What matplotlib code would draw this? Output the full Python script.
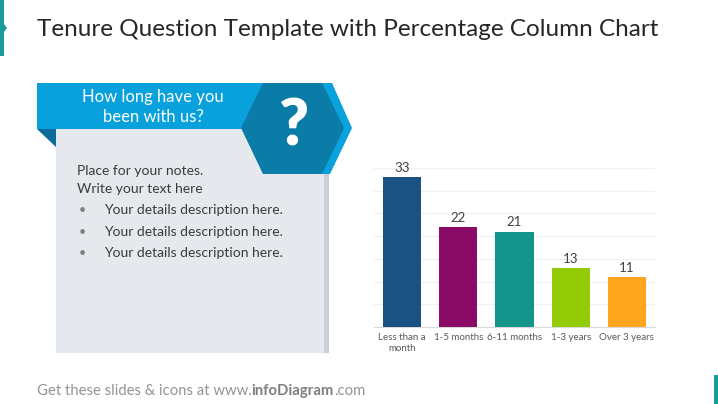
import matplotlib
matplotlib.use("Agg")
import matplotlib.pyplot as plt
from matplotlib.patches import Polygon, Rectangle

# chart data
categories = ["Less than a\nmonth", "1-5 months", "6-11 months", "1-3 years", "Over 3 years"]
values = [33, 22, 21, 13, 11]
bar_colors = ["#1C5283", "#8A0B66", "#15948B", "#93CB06", "#FFA61E"]

title = "Tenure Question Template with Percentage Column Chart"
question = "How long have you\nbeen with us?"
notes = ["Place for your notes.", "Write your text here"]
bullets = ["Your details description here."] * 3

plt.rcParams["font.family"] = ["Lato", "DejaVu Sans"]

fig = plt.figure(figsize=(7.18, 4.04), dpi=100)

# full-slide layer in pixel coordinates
bg = fig.add_axes([0, 0, 1, 1])
bg.set_xlim(0, 718)
bg.set_ylim(404, 0)
bg.axis("off")

# accent bars on slide edges
bg.add_patch(Polygon([(0, 0), (4, 0), (4, 24), (7, 28), (4, 32), (4, 56), (0, 56)],
                     closed=True, color="#1A9A9A", lw=0))
bg.add_patch(Rectangle((714, 375), 4, 29, color="#1A9A9A", lw=0))

bg.text(37, 29, title, fontsize=17.5, color="#262626", va="center", ha="left")

# notes panel
bg.add_patch(Rectangle((56, 129), 268, 224, color="#E5E8EC", lw=0))
bg.add_patch(Rectangle((324, 172), 5, 181, color="#C9CED9", lw=0))
bg.add_patch(Polygon([(37, 129), (56, 129), (56, 147)], closed=True, color="#0B6C9C", lw=0))
bg.add_patch(Rectangle((37, 83), 230, 46, color="#08A1DB", lw=0))

# hexagon badge with lighter rim
bg.add_patch(Polygon([(248, 128), (270, 83), (332, 83), (352, 128), (330, 174), (270, 174)],
                     closed=True, color="#08A1DB", lw=0))
bg.add_patch(Polygon([(241, 128), (263, 83), (322, 83), (344, 128), (322, 174), (263, 174)],
                     closed=True, color="#0B7BA7", lw=0))
bg.text(293, 127, "?", fontsize=46, color="white", fontweight="heavy",
        ha="center", va="center")

bg.text(153, 107, question, fontsize=12, color="white", ha="center", va="center",
        linespacing=1.25)

for i, line in enumerate(notes):
    bg.text(77, 171 + i * 18, line, fontsize=10, color="#3b3b3b", va="center")
for i, line in enumerate(bullets):
    y = 210 + i * 21.5
    bg.text(79, y, "\u2022", fontsize=9, color="#7f7f7f", va="center")
    bg.text(104, y, line, fontsize=10, color="#3b3b3b", va="center")

# footer
foot = bg.text(37, 391, "Get these slides & icons at www.", fontsize=10.7,
               color="#949494", va="center")
foot = bg.annotate("infoDiagram", xycoords=foot, xy=(1, 0), va="bottom",
                   fontsize=10.7, color="#7f7f7f", fontweight="bold")
bg.annotate(".com", xycoords=foot, xy=(1, 0), va="bottom", fontsize=10.7,
            color="#949494")

# column chart
ax = fig.add_axes([374 / 718, (404 - 327) / 404, (655 - 374) / 718, (327 - 168) / 404])
x = range(len(values))
bars = ax.bar(x, values, width=0.68, color=bar_colors, zorder=3)
ax.set_xlim(-0.5, len(values) - 0.5)
ax.set_ylim(0, 35)
ax.set_yticks(range(0, 36, 5))
ax.yaxis.grid(True, color="#EFEFEF", lw=0.8)
ax.tick_params(axis="y", left=False, labelleft=False)
ax.tick_params(axis="x", length=0, pad=4, labelsize=7, labelcolor="#595959")
ax.set_xticks(list(x))
ax.set_xticklabels(categories, linespacing=1.3)
for side in ["top", "right", "left"]:
    ax.spines[side].set_visible(False)
ax.spines["bottom"].set_color("#D9D9D9")
for b, v in zip(bars, values):
    ax.text(b.get_x() + b.get_width() / 2, v + 0.7, str(v), ha="center", va="bottom",
            fontsize=9.5, color="#404040")

plt.savefig("out.png", dpi=100)
plt.close()
